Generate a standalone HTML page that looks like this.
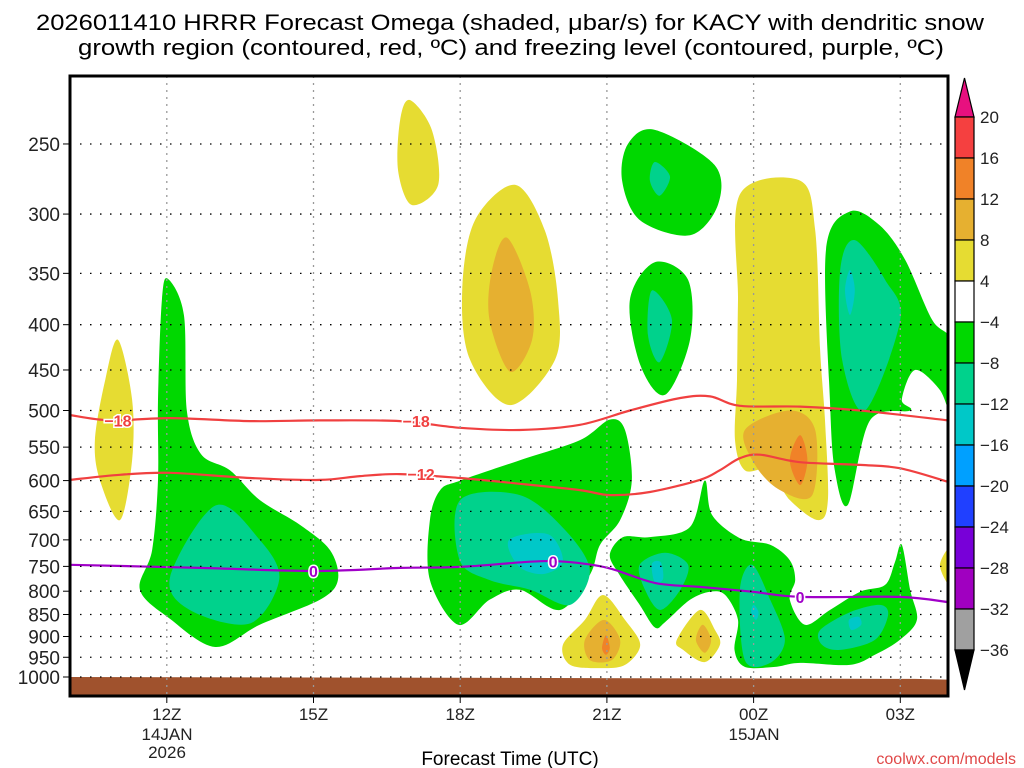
<!DOCTYPE html>
<html><head><meta charset="utf-8"><style>
html,body{margin:0;padding:0;background:#fff;width:1024px;height:768px;overflow:hidden}
svg text{font-family:"Liberation Sans",sans-serif}
</style></head><body>
<svg id="chart" width="1024" height="768" viewBox="0 0 1024 768" xmlns="http://www.w3.org/2000/svg">
<text x="36" y="30" font-size="22" textLength="948" lengthAdjust="spacingAndGlyphs">2026011410 HRRR Forecast Omega (shaded, μbar/s) for KACY with dendritic snow</text>
<text x="78" y="55" font-size="22" textLength="866" lengthAdjust="spacingAndGlyphs">growth region (contoured, red, ºC) and freezing level (contoured, purple, ºC)</text>
<g id="plot"></g>
<text x="510" y="765" font-size="19" text-anchor="middle">Forecast Time (UTC)</text>
<text x="1016" y="764" font-size="16" fill="#e04848" text-anchor="end">coolwx.com/models</text>
</svg>
<script>
// axis config
const hourMin=10, hourMax=28.02, pTop=209.6, pBot=1050;
const pressureTicks=[250,300,350,400,450,500,550,600,650,700,750,800,850,900,950,1000];
const timeTicks=[12,15,18,21,24,27];
const timeLabels=["12Z","15Z","18Z","21Z","00Z","03Z"];
const cbarLevels=[20,16,12,8,4,-4,-8,-12,-16,-20,-24,-28,-32,-36];
const cbarColors=["#f54040","#f08228","#e6b030","#e6dc32","#ffffff","#00d800","#00d28c","#00c8c8","#00a0ff","#2040ff","#7800d8","#a000c0","#a0a0a0"];
// shaded omega regions [hour, hPa]
const yellowLeft=[[11.0,416],[11.29,486],[11.29,569],[11.04,665],[10.63,599],[10.53,540],[10.74,462]];
const green12z=[[12.02,355],[12.35,390],[12.41,500],[12.7,560],[13.29,584],[13.9,631],[14.72,673],[15.34,719],[15.5,777],[15.13,818],[13.9,873],[12.99,925],[12.07,860],[11.45,797],[11.7,719],[11.82,599],[11.82,486],[11.9,375]];
const teal12z=[[12.07,770],[13.0,640],[13.9,700],[14.3,775],[13.7,870],[12.47,840]];
const yellow17z=[[16.97,223],[17.42,241],[17.55,278],[17.01,293],[16.73,268],[16.77,235]];
const yellow19z=[[19.12,278],[19.73,313],[20.0,375],[19.94,438],[19.02,493],[18.2,438],[18.04,366],[18.3,305]];
const orange19z=[[18.96,319],[19.43,366],[19.47,416],[19.02,452],[18.6,395],[18.65,347]];
const green20z=[[18.0,600],[19.22,569],[20.45,540],[21.06,512],[21.37,526],[21.51,600],[21.27,665],[20.86,709],[20.65,767],[20.04,840],[19.22,797],[18.6,818],[17.96,873],[17.38,777],[17.38,665],[17.59,615]];
const teal20z=[[18.0,631],[19.22,623],[20.14,682],[20.65,757],[20.25,829],[19.43,797],[18.6,777],[17.99,738]];
const cyan20z=[[19.0,700],[19.8,690],[20.1,740],[19.7,765],[19.2,750]];
const greenTop22z=[[21.98,241],[23.2,264],[23.27,293],[22.7,317],[21.68,305],[21.31,275],[21.43,250]];
const tealTop22z=[[21.98,262],[22.29,272],[22.08,286],[21.88,275]];
const greenMid22z=[[21.98,340],[22.66,356],[22.7,416],[22.19,480],[21.68,444],[21.47,375]];
const tealMid22z=[[21.92,366],[22.33,395],[22.08,441],[21.84,411]];
const greenLow=[[21.33,695],[21.88,695],[22.70,677],[23.0,600],[23.15,656],[23.72,697],[24.34,709],[24.74,738],[24.85,777],[24.74,818],[25.05,873],[25.56,840],[26.18,801],[26.69,787],[26.89,742],[27.03,709],[27.20,797],[27.34,862],[26.99,908],[26.48,944],[25.97,969],[24.95,964],[24.44,974],[23.82,974],[23.61,932],[23.68,862],[23.42,808],[23.11,801],[22.70,818],[22.19,867],[21.98,879],[21.67,829],[21.26,767],[21.06,728]];
const tealLow1=[[21.67,747],[22.19,724],[22.66,747],[22.5,797],[22.09,840],[21.78,797]];
const cyanLow1=[[21.92,745],[22.1,742],[22.15,775],[21.98,782]];
const tealLow2=[[23.72,797],[23.97,747],[24.34,818],[24.64,908],[24.34,964],[23.82,957]];
const cyanLow2=[[24.0,829],[24.1,845],[24.05,862],[23.95,845]];
const tealLow3=[[25.36,885],[25.97,845],[26.58,829],[26.75,851],[26.48,908],[25.77,932],[25.4,920]];
const cyanLow3=[[25.95,862],[26.15,855],[26.2,873],[26.0,885]];
const yellow21z=[[20.92,808],[21.37,862],[21.68,920],[21.37,969],[20.86,977],[20.25,969],[20.1,920],[20.55,862]];
const orange21z=[[20.94,862],[21.27,908],[21.1,957],[20.65,957],[20.55,908]];
const red21z=[[20.98,897],[21.06,927],[20.98,944],[20.9,927]];
const yellow23z=[[22.9,840],[23.21,885],[23.31,920],[23.0,962],[22.56,932],[22.43,908]];
const orange23z=[[22.96,873],[23.13,908],[23.0,939],[22.82,908]];
const yellow00z=[[23.72,285],[24.95,275],[25.26,313],[25.36,427],[25.46,513],[25.52,631],[25.32,665],[24.74,631],[24.33,584],[23.82,584],[23.62,540],[23.66,462],[23.68,375]];
const orange00z=[[23.82,526],[24.74,500],[25.26,526],[25.2,623],[24.54,615],[24.03,576]];
const red00z=[[24.95,533],[25.1,569],[24.95,607],[24.74,569]];
const green02z=[[25.97,298],[26.58,309],[27.10,338],[27.65,395],[28.1,422],[28.1,513],[27.81,474],[27.30,450],[27.03,486],[27.2,500],[26.38,513],[25.93,639],[25.66,584],[25.56,486],[25.48,329]];
const teal02z=[[26.07,321],[26.69,356],[27.0,395],[26.28,500],[25.81,438],[25.77,347]];
const cyan02z=[[25.97,347],[26.07,366],[25.97,390],[25.87,366]];
const yellowEdge=[[28.1,709],[27.81,748],[28.1,797]];
// contour lines
const lineHours=[10.02,10.84,12.07,13.70,15.13,16.77,18.0,19.22,20.45,21.47,22.5,23.11,23.72,24.95,26.18,27.98];
const dgzMinus18=[506,513,510,514,513,514,523,526,519,500,484,482,494,495,500,513];
const hoursM12=[10.02,11.04,12.07,13.70,15.13,15.95,16.77,18.0,19.22,20.45,21.06,21.88,22.9,23.31,23.72,24.13,24.95,26.18,26.99,27.98];
const dgzMinus12=[599,591,588,596,599,593,590,596,605,615,623,618,599,584,566,561,572,576,581,602];
const hoursZero=[10.02,12.68,15.01,16.77,18.0,19.43,20.14,21.02,21.98,22.9,23.97,24.95,26.99,27.98];
const freezingLevel=[747,753,759,753,751,741,741,753,783,791,801,812,812,823];
const groundHours=[10,18,27.3,28.02];
const groundP=[1000,1002,1005,1007];

const X0=69,PX=48.9,Y1000=677,YK=384.5;
const xs=h=>X0+(h-hourMin)*PX;
const ys=p=>Y1000-YK*Math.log(1000/p);
const NS="http://www.w3.org/2000/svg";
const plot=document.getElementById('plot');
function mk(tag,attrs,parent){const e=document.createElementNS(NS,tag);for(const k in attrs)e.setAttribute(k,attrs[k]);(parent||plot).appendChild(e);return e;}
function smooth(pts,closed){
  const P=pts.map(d=>[xs(d[0]),ys(d[1])]);const n=P.length;
  let d="M"+P[0][0].toFixed(1)+","+P[0][1].toFixed(1);
  const last=closed?n:n-1;
  for(let i=0;i<last;i++){
    const p0=P[closed?(i-1+n)%n:Math.max(i-1,0)],p1=P[i],p2=P[(i+1)%n],p3=P[closed?(i+2)%n:Math.min(i+2,n-1)];
    const t=0.16;
    d+=" C"+(p1[0]+(p2[0]-p0[0])*t).toFixed(1)+","+(p1[1]+(p2[1]-p0[1])*t).toFixed(1)+" "+(p2[0]-(p3[0]-p1[0])*t).toFixed(1)+","+(p2[1]-(p3[1]-p1[1])*t).toFixed(1)+" "+p2[0].toFixed(1)+","+p2[1].toFixed(1);
  }
  return d+(closed?"Z":"");
}
const clip=mk('clipPath',{id:'pc'});
mk('rect',{x:70,y:76,width:878,height:620},clip);
const shade=mk('g',{'clip-path':'url(#pc)'});


const Y='#e6dc32',O='#e6b030',R='#f08228',G='#00d800',T='#00d28c',C='#00c8c8';
const regions=[
 ['yellow-left',yellowLeft,Y],['green-12z',green12z,G],['teal-12z',teal12z,T],
 ['yellow-17z',yellow17z,Y],['yellow-19z',yellow19z,Y],['orange-19z',orange19z,O],
 ['green-20z',green20z,G],['teal-20z',teal20z,T],['cyan-20z',cyan20z,C],
 ['green-top-22z',greenTop22z,G],['teal-top-22z',tealTop22z,T],
 ['green-mid-22z',greenMid22z,G],['teal-mid-22z',tealMid22z,T],
 ['green-low',greenLow,G],['teal-low-1',tealLow1,T],['cyan-low-1',cyanLow1,C],
 ['teal-low-2',tealLow2,T],['cyan-low-2',cyanLow2,C],['teal-low-3',tealLow3,T],['cyan-low-3',cyanLow3,C],
 ['yellow-21z',yellow21z,Y],['orange-21z',orange21z,O],['red-21z',red21z,R],
 ['yellow-23z',yellow23z,Y],['orange-23z',orange23z,O],
 ['yellow-00z',yellow00z,Y],['orange-00z',orange00z,O],['red-00z',red00z,R],
 ['green-02z',green02z,G],['teal-02z',teal02z,T],['cyan-02z',cyan02z,C],['yellow-edge',yellowEdge,Y]
];
regions.forEach(r=>{
  const e=mk('path',{d:smooth(r[1],true),fill:r[2]},shade);
  
  
});
// grid
pressureTicks.forEach(p=>{
  const y=ys(p);
  const g=mk('line',{x1:70,x2:948,y1:y,y2:y,stroke:'#000','stroke-width':1.3,'stroke-dasharray':'1.5 8.5'});
  
  
  mk('line',{x1:63,x2:70,y1:y,y2:y,stroke:'#000','stroke-width':1});
  const t=mk('text',{x:60,y:y+7,'font-size':19,'text-anchor':'end',fill:'#222'});
  t.textContent=p;
  
  
});
timeTicks.forEach((h,i)=>{
  const x=xs(h);
  mk('line',{x1:x,x2:x,y1:76,y2:696,stroke:'#999','stroke-width':1.3,'stroke-dasharray':'2 5'});
  mk('line',{x1:x,x2:x,y1:696,y2:703,stroke:'#000','stroke-width':1});
  const t=mk('text',{x:x,y:720,'font-size':17,'text-anchor':'middle',fill:'#222'});
  t.textContent=timeLabels[i];
  
  
});
[[167,'14JAN',740],[167,'2026',758],[754,'15JAN',740]].forEach(a=>{
  const t=mk('text',{x:a[0],y:a[2],'font-size':17,'text-anchor':'middle',fill:'#222'});t.textContent=a[1];
  
  
});
// ground
let gd="M"+xs(groundHours[0])+",696";
groundHours.forEach((h,i)=>{gd+=" L"+xs(h)+","+ys(groundP[i]);});
gd+=" L"+xs(groundHours[groundHours.length-1])+",696Z";
const gr=mk('path',{d:gd,fill:'#a0522d'},shade);


// contour lines
function line(hours,vals,color,name){
  const pts=hours.map((h,i)=>[h,vals[i]]);
  const e=mk('path',{d:smooth(pts,false),fill:'none',stroke:color,'stroke-width':2.2},shade);
  
  
}
line(lineHours,dgzMinus18,'#f04040','contour-minus-18');
line(hoursM12,dgzMinus12,'#f04040','contour-minus-12');
line(hoursZero,freezingLevel,'#a000c8','freezing-level-line');
function lab(h,p,txt,color,name){
  const x=xs(h),y=ys(p);
  mk('rect',{x:x-txt.length*5-2,y:y-8,width:txt.length*10+4,height:16,fill:'#fff',opacity:0});
  const t=mk('text',{x:x,y:y+6,'font-size':16,'font-weight':'bold','text-anchor':'middle',fill:color,stroke:'#fff','stroke-width':3,'paint-order':'stroke'});
  t.textContent=txt;
  
  
}
lab(11.0,513,'−18','#f04040','label-minus-18-a');
lab(17.1,514,'−18','#f04040','label-minus-18-b');
lab(17.2,590,'−12','#f04040','label-minus-12');
lab(15.0,759,'0','#a000c8','label-zero-a');
lab(19.9,741,'0','#a000c8','label-zero-b');
lab(24.95,812,'0','#a000c8','label-zero-c');
// frame
const fr=mk('rect',{x:70,y:76,width:878,height:620,fill:'none',stroke:'#000','stroke-width':3});


// colorbar
const cb=mk('g',{});


const cTop=117,cStep=(650-117)/(cbarLevels.length-1);
mk('path',{d:`M955,${cTop} L964.5,78 L974,${cTop}Z`,fill:'#e8107f',stroke:'#000','stroke-width':1.2},cb);
cbarColors.forEach((c,i)=>{
  const r=mk('rect',{x:955,y:cTop+i*cStep,width:19,height:cStep,fill:c,stroke:'#000','stroke-width':1.2},cb);
  
  
});
mk('path',{d:`M955,650 L964.5,690 L974,650Z`,fill:'#000',stroke:'#000','stroke-width':1.2},cb);
cbarLevels.forEach((v,i)=>{
  const t=mk('text',{x:980,y:cTop+i*cStep+6,'font-size':17,fill:'#222'},cb);
  t.textContent=(v<0?'−':'')+Math.abs(v);
  
  
});
</script>
</body></html>
